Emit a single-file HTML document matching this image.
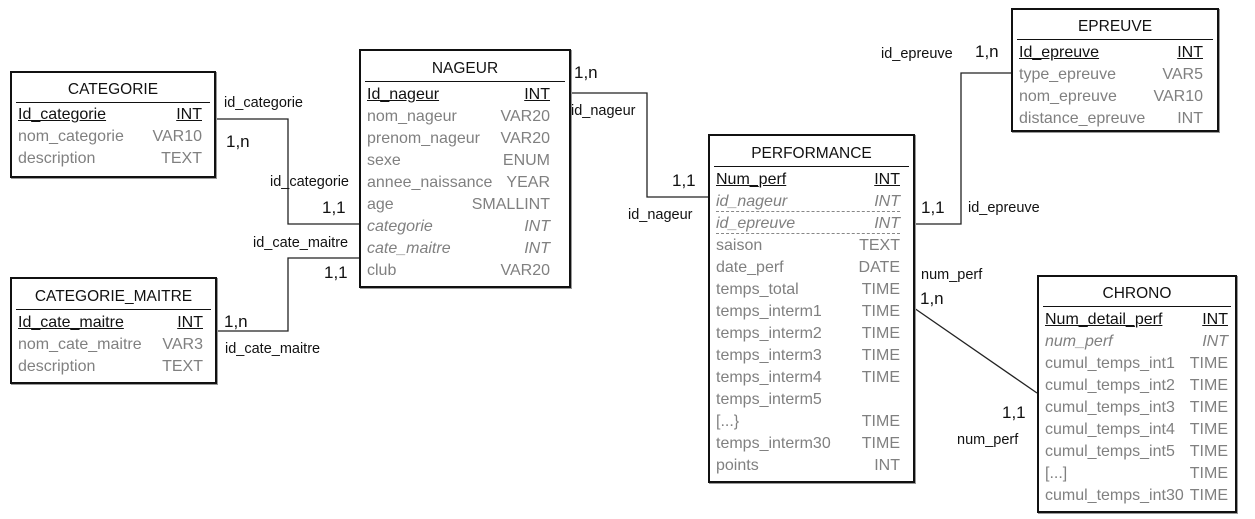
<!DOCTYPE html>
<html><head><meta charset="utf-8"><style>
body{margin:0;width:1255px;height:519px;background:#fff;position:relative;overflow:hidden;font-family:"Liberation Sans",sans-serif}
.box{position:absolute;border:2px solid #111;box-shadow:1px 1px 0 #999;box-sizing:border-box}
.t{position:absolute;left:4px;right:4px;text-align:center;font-size:15.5px;color:#111;border-bottom:1px solid #111;padding-bottom:3px}
.r{position:absolute;left:6px;right:12px;font-size:16px;color:#808080;height:22px;line-height:22px;white-space:nowrap}
.r span{position:absolute;right:0;top:0}
.pk,.pk span{color:#111;text-decoration:underline}
.fk{font-style:italic}
.dash{border-bottom:1px dashed #888;height:20px}
.l{position:absolute;font-size:14.5px;color:#111;white-space:nowrap}
.c{position:absolute;font-size:17px;color:#111}
svg{position:absolute;left:0;top:0}
#ng .r{right:19px}#ch .r{right:7px}#pf .r{right:13px}#ep .r{right:14px}
</style></head><body>
<svg width="1255" height="519"><g stroke="#222" stroke-width="1.3" fill="none">
<polyline points="215,119 288,119 288,224 359,224"/>
<polyline points="216,331 288,331 288,258 359,258"/>
<polyline points="570,93 647,93 647,197 708,197"/>
<polyline points="914,224 961,224 961,73 1011,73"/>
<line x1="914" y1="308" x2="1037" y2="393"/>
</g></svg>

<div class="box" style="left:10px;top:71px;width:206px;height:107px">
<div class="t" style="top:8px">CATEGORIE</div>
<div class="r pk" style="top:31px">Id_categorie<span>INT</span></div>
<div class="r" style="top:53px">nom_categorie<span>VAR10</span></div>
<div class="r" style="top:75px">description<span>TEXT</span></div>
</div>

<div class="box" style="left:10px;top:277px;width:207px;height:107px">
<div class="t" style="top:9px">CATEGORIE_MAITRE</div>
<div class="r pk" style="top:33px">Id_cate_maitre<span>INT</span></div>
<div class="r" style="top:55px">nom_cate_maitre<span>VAR3</span></div>
<div class="r" style="top:77px">description<span>TEXT</span></div>
</div>

<div class="box" id="ng" style="left:359px;top:49px;width:212px;height:239px">
<div class="t" style="top:9px">NAGEUR</div>
<div class="r pk" style="top:33px">Id_nageur<span>INT</span></div>
<div class="r" style="top:55px">nom_nageur<span>VAR20</span></div>
<div class="r" style="top:77px">prenom_nageur<span>VAR20</span></div>
<div class="r" style="top:99px">sexe<span>ENUM</span></div>
<div class="r" style="top:121px">annee_naissance<span>YEAR</span></div>
<div class="r" style="top:143px">age<span>SMALLINT</span></div>
<div class="r fk" style="top:165px">categorie<span>INT</span></div>
<div class="r fk" style="top:187px">cate_maitre<span>INT</span></div>
<div class="r" style="top:209px">club<span>VAR20</span></div>
</div>

<div class="box" id="pf" style="left:708px;top:134px;width:207px;height:349px">
<div class="t" style="top:9px">PERFORMANCE</div>
<div class="r pk" style="top:33px">Num_perf<span>INT</span></div>
<div class="r fk dash" style="top:55px">id_nageur<span>INT</span></div>
<div class="r fk dash" style="top:77px">id_epreuve<span>INT</span></div>
<div class="r" style="top:99px">saison<span>TEXT</span></div>
<div class="r" style="top:121px">date_perf<span>DATE</span></div>
<div class="r" style="top:143px">temps_total<span>TIME</span></div>
<div class="r" style="top:165px">temps_interm1<span>TIME</span></div>
<div class="r" style="top:187px">temps_interm2<span>TIME</span></div>
<div class="r" style="top:209px">temps_interm3<span>TIME</span></div>
<div class="r" style="top:231px">temps_interm4<span>TIME</span></div>
<div class="r" style="top:253px">temps_interm5</div>
<div class="r" style="top:275px">[...}<span>TIME</span></div>
<div class="r" style="top:297px">temps_interm30<span>TIME</span></div>
<div class="r" style="top:319px">points<span>INT</span></div>
</div>

<div class="box" id="ep" style="left:1011px;top:8px;width:208px;height:124px">
<div class="t" style="top:8px">EPREUVE</div>
<div class="r pk" style="top:32px">Id_epreuve<span>INT</span></div>
<div class="r" style="top:54px">type_epreuve<span>VAR5</span></div>
<div class="r" style="top:76px">nom_epreuve<span>VAR10</span></div>
<div class="r" style="top:98px">distance_epreuve<span>INT</span></div>
</div>

<div class="box" id="ch" style="left:1037px;top:275px;width:200px;height:238px">
<div class="t" style="top:8px">CHRONO</div>
<div class="r pk" style="top:32px">Num_detail_perf<span>INT</span></div>
<div class="r fk" style="top:54px">num_perf<span>INT</span></div>
<div class="r" style="top:76px">cumul_temps_int1<span>TIME</span></div>
<div class="r" style="top:98px">cumul_temps_int2<span>TIME</span></div>
<div class="r" style="top:120px">cumul_temps_int3<span>TIME</span></div>
<div class="r" style="top:142px">cumul_temps_int4<span>TIME</span></div>
<div class="r" style="top:164px">cumul_temps_int5<span>TIME</span></div>
<div class="r" style="top:186px">[...]<span>TIME</span></div>
<div class="r" style="top:208px">cumul_temps_int30<span>TIME</span></div>
</div>

<div class="l" style="left:224px;top:95px">id_categorie</div>
<div class="c" style="left:226px;top:132px">1,n</div>
<div class="l" style="left:270px;top:174px">id_categorie</div>
<div class="c" style="left:322px;top:198px">1,1</div>
<div class="l" style="left:253px;top:235px">id_cate_maitre</div>
<div class="c" style="left:324px;top:263px">1,1</div>
<div class="c" style="left:224px;top:312px">1,n</div>
<div class="l" style="left:225px;top:341px">id_cate_maitre</div>
<div class="c" style="left:574px;top:63px">1,n</div>
<div class="l" style="left:571px;top:103px">id_nageur</div>
<div class="c" style="left:672px;top:171px">1,1</div>
<div class="l" style="left:628px;top:207px">id_nageur</div>
<div class="l" style="left:881px;top:46px">id_epreuve</div>
<div class="c" style="left:975px;top:42px">1,n</div>
<div class="c" style="left:921px;top:198px">1,1</div>
<div class="l" style="left:968px;top:200px">id_epreuve</div>
<div class="l" style="left:921px;top:267px">num_perf</div>
<div class="c" style="left:920px;top:289px">1,n</div>
<div class="c" style="left:1002px;top:403px">1,1</div>
<div class="l" style="left:957px;top:432px">num_perf</div>
</body></html>
